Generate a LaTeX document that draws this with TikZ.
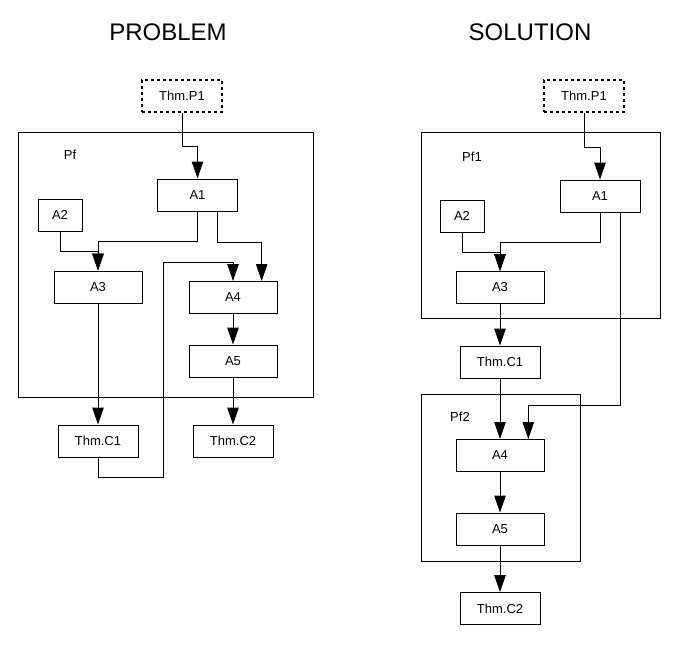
\documentclass[tikz,border=0pt]{standalone}
\usepackage{fontspec}
\setmainfont{Liberation Sans}
\usetikzlibrary{arrows.meta}
\tikzset{
  box/.style={draw=black, line width=1pt, rectangle, inner sep=0pt,
    minimum height=32pt, font=\fontsize{13}{15}\selectfont},
  thm/.style={box, minimum width=80pt},
  wide/.style={box, minimum width=88pt},
  small/.style={box, minimum width=44pt},
  hyp/.style={box, minimum width=80pt, line width=1.6pt, dash pattern=on 3pt off 3pt},
  frame/.style={draw=black, line width=1pt, rectangle, inner sep=0pt},
  lbl/.style={font=\fontsize{13}{15}\selectfont, inner sep=0pt},
  ttl/.style={font=\fontsize{24}{28}\selectfont, inner sep=0pt},
  arr/.style={draw=black, line width=1pt, -{Triangle[length=17pt, width=11.5pt]}}
}
\begin{document}
\begin{tikzpicture}[x=1pt, y=-1pt]
\useasboundingbox (0,0) rectangle (681,646);
% titles
\node[ttl] (tP) at (168,32) {PROBLEM};
\node[ttl] (tS) at (530,32) {SOLUTION};

% ---------- PROBLEM ----------
\node[frame, minimum width=295pt, minimum height=265pt] (pfL) at (165.5,264.5) {};
\node[lbl] (pfLl) at (70,155) {Pf};
\node[hyp] (P1L) at (182,96) {Thm.P1};
\node[thm] (A1L) at (197.5,195) {A1};
\node[small] (A2L) at (60,215) {A2};
\node[wide] (A3L) at (98,287) {A3};
\node[wide] (A4L) at (233,297.5) {A4};
\node[wide] (A5L) at (233,361) {A5};
\node[thm] (C1L) at (98,441) {Thm.C1};
\node[thm] (C2L) at (233,441) {Thm.C2};

\draw[arr] (P1L.south) -- ++(0,34) -| (A1L.north);
\draw[arr] (A1L.south) -- ++(0,30) -| (A3L.north);
\draw[arr] (A2L.south) -- ++(0,20) -| (A3L.north);
\draw[arr] ([xshift=20pt]A1L.south) -- ++(0,31) -| ([xshift=28.7pt]A4L.north);
\draw[arr] (A3L.south) -- (C1L.north);
\draw[arr] (A4L.south) -- (A5L.north);
\draw[arr] (A5L.south) -- (C2L.north);
\draw[arr] (C1L.south) |- (163,477) -- (163,262) -| (A4L.north);

% ---------- SOLUTION ----------
\node[frame, minimum width=239pt, minimum height=186pt] (pf1) at (540.5,225) {};
\node[lbl] (pf1l) at (472,157) {Pf1};
\node[frame, minimum width=159pt, minimum height=167pt] (pf2) at (500.5,477.5) {};
\node[lbl] (pf2l) at (460,417) {Pf2};
\node[hyp] (P1R) at (584,96) {Thm.P1};
\node[thm] (A1R) at (600,196) {A1};
\node[small] (A2R) at (462,216) {A2};
\node[wide] (A3R) at (500,287.5) {A3};
\node[thm] (C1R) at (500,362) {Thm.C1};
\node[wide] (A4R) at (500,455.5) {A4};
\node[wide] (A5R) at (500,529) {A5};
\node[thm] (C2R) at (500,608.5) {Thm.C2};

\draw[arr] (P1R.south) -- ++(0,34.7) -| (A1R.north);
\draw[arr] (A1R.south) -- ++(0,29.7) -| (A3R.north);
\draw[arr] (A2R.south) -- ++(0,19.7) -| (A3R.north);
\draw[arr] (A3R.south) -- (C1R.north);
\draw[arr] (C1R.south) -- (A4R.north);
\draw[arr] ([xshift=20pt]A1R.south) -- ++(0,193) -| ([xshift=28.3pt]A4R.north);
\draw[arr] (A4R.south) -- (A5R.north);
\draw[arr] (A5R.south) -- (C2R.north);
\end{tikzpicture}
\end{document}
